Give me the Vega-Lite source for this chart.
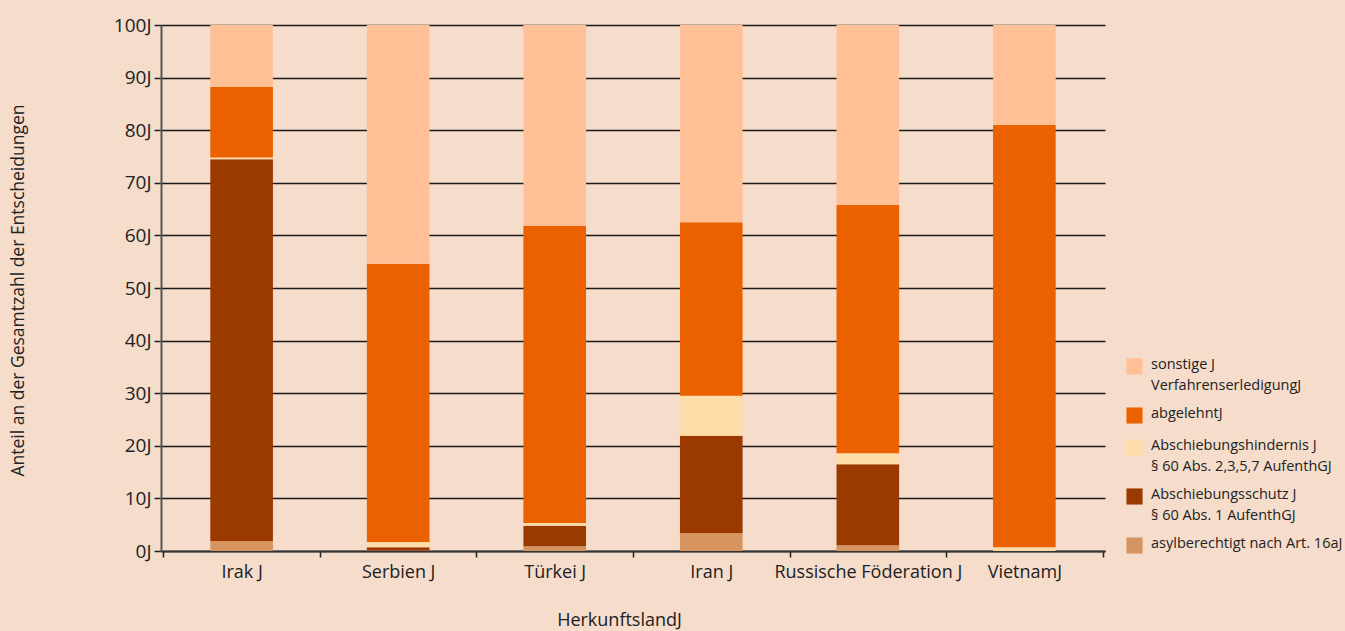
{
  "$schema": "https://vega.github.io/schema/vega-lite/v6.json",
  "autosize": "none",
  "width": 944,
  "height": 526,
  "padding": {"left": 161, "top": 25, "right": 240, "bottom": 80},
  "background": "#F5DCCB",
  "config": {
    "view": {"stroke": null},
    "font": "Open Sans"
  },
  "data": {
    "values": [
      {"land": "Irak J", "kat": "asyl", "ord": 1, "wert": 1.9},
      {"land": "Irak J", "kat": "schutz", "ord": 2, "wert": 72.6},
      {"land": "Irak J", "kat": "hindernis", "ord": 3, "wert": 0.3},
      {"land": "Irak J", "kat": "abgelehnt", "ord": 4, "wert": 13.4},
      {"land": "Irak J", "kat": "sonstige", "ord": 5, "wert": 11.8},
      {"land": "Serbien J", "kat": "asyl", "ord": 1, "wert": 0.1},
      {"land": "Serbien J", "kat": "schutz", "ord": 2, "wert": 0.6},
      {"land": "Serbien J", "kat": "hindernis", "ord": 3, "wert": 1.0},
      {"land": "Serbien J", "kat": "abgelehnt", "ord": 4, "wert": 52.9},
      {"land": "Serbien J", "kat": "sonstige", "ord": 5, "wert": 45.4},
      {"land": "Türkei J", "kat": "asyl", "ord": 1, "wert": 0.9},
      {"land": "Türkei J", "kat": "schutz", "ord": 2, "wert": 3.9},
      {"land": "Türkei J", "kat": "hindernis", "ord": 3, "wert": 0.5},
      {"land": "Türkei J", "kat": "abgelehnt", "ord": 4, "wert": 56.5},
      {"land": "Türkei J", "kat": "sonstige", "ord": 5, "wert": 38.2},
      {"land": "Iran J", "kat": "asyl", "ord": 1, "wert": 3.4},
      {"land": "Iran J", "kat": "schutz", "ord": 2, "wert": 18.5},
      {"land": "Iran J", "kat": "hindernis", "ord": 3, "wert": 7.6},
      {"land": "Iran J", "kat": "abgelehnt", "ord": 4, "wert": 33.0},
      {"land": "Iran J", "kat": "sonstige", "ord": 5, "wert": 37.5},
      {"land": "Russische Föderation J", "kat": "asyl", "ord": 1, "wert": 1.1},
      {"land": "Russische Föderation J", "kat": "schutz", "ord": 2, "wert": 15.4},
      {"land": "Russische Föderation J", "kat": "hindernis", "ord": 3, "wert": 2.1},
      {"land": "Russische Föderation J", "kat": "abgelehnt", "ord": 4, "wert": 47.2},
      {"land": "Russische Föderation J", "kat": "sonstige", "ord": 5, "wert": 34.2},
      {"land": "VietnamJ", "kat": "asyl", "ord": 1, "wert": 0.0},
      {"land": "VietnamJ", "kat": "schutz", "ord": 2, "wert": 0.0},
      {"land": "VietnamJ", "kat": "hindernis", "ord": 3, "wert": 0.7},
      {"land": "VietnamJ", "kat": "abgelehnt", "ord": 4, "wert": 80.3},
      {"land": "VietnamJ", "kat": "sonstige", "ord": 5, "wert": 19.0}
    ]
  },
  "mark": {"type": "bar", "width": {"band": 0.4}},
  "encoding": {
    "x": {
      "field": "land",
      "type": "nominal",
      "sort": null,
      "scale": {"paddingInner": 0, "paddingOuter": 0.015},
      "axis": {
        "title": "HerkunftslandJ",
        "titleFont": "Open Sans",
        "titleFontSize": 18,
        "titleFontWeight": "normal",
        "titleColor": "#222222",
        "titleX": 458,
        "titleY": 69,
        "titleAlign": "center",
        "titleBaseline": "middle",
        "labelAngle": 0,
        "labelFontSize": 18,
        "labelColor": "#222222",
        "labelPadding": 6,
        "labelLimit": 400,
        "labelOverlap": false,
        "tickBand": "extent",
        "tickColor": "#222222",
        "tickSize": 6,
        "tickWidth": 1.5,
        "domainColor": "#333333",
        "domainWidth": 2
      }
    },
    "y": {
      "field": "wert",
      "type": "quantitative",
      "stack": "zero",
      "scale": {"domain": [0, 100], "nice": false},
      "axis": {
        "title": "Anteil an der Gesamtzahl der Entscheidungen",
        "titleFont": "Open Sans",
        "titleFontSize": 17.5,
        "titleFontWeight": "normal",
        "titleColor": "#222222",
        "titleX": -143,
        "titleY": 265,
        "titleAngle": -90,
        "titleAlign": "center",
        "titleBaseline": "middle",
        "values": [0, 10, 20, 30, 40, 50, 60, 70, 80, 90, 100],
        "labelExpr": "datum.value + 'J'",
        "labelFontSize": 19,
        "labelColor": "#222222",
        "labelPadding": 3,
        "tickColor": "#222222",
        "tickSize": 7,
        "tickWidth": 1.5,
        "grid": true,
        "gridColor": "#1a1a1a",
        "gridWidth": 1.3,
        "domainColor": "#555555",
        "domainWidth": 2
      }
    },
    "color": {
      "field": "kat",
      "type": "nominal",
      "scale": {
        "domain": ["sonstige", "abgelehnt", "hindernis", "schutz", "asyl"],
        "range": ["#FFC096", "#EB6100", "#FFDDA8", "#9A3A00", "#D69460"]
      },
      "legend": {
        "title": null,
        "orient": "none",
        "legendX": 965,
        "legendY": 333,
        "symbolType": "square",
        "symbolSize": 260,
        "symbolStrokeWidth": 0,
        "labelFontSize": 14.5,
        "labelColor": "#222222",
        "labelLimit": 300,
        "labelOffset": 8,
        "labelBaseline": "top",
        "rowPadding": 13,
        "encode": {
          "labels": {"update": {"lineHeight": {"value": 21}, "dy": {"value": -9}}}
        },
        "labelExpr": "datum.value == 'sonstige' ? ['sonstige J', 'VerfahrenserledigungJ'] : datum.value == 'abgelehnt' ? 'abgelehntJ' : datum.value == 'hindernis' ? ['Abschiebungshindernis J', '§ 60 Abs. 2,3,5,7 AufenthGJ'] : datum.value == 'schutz' ? ['Abschiebungsschutz J', '§ 60 Abs. 1 AufenthGJ'] : 'asylberechtigt nach Art. 16aJ'"
      }
    },
    "order": {"field": "ord", "type": "quantitative"}
  }
}
